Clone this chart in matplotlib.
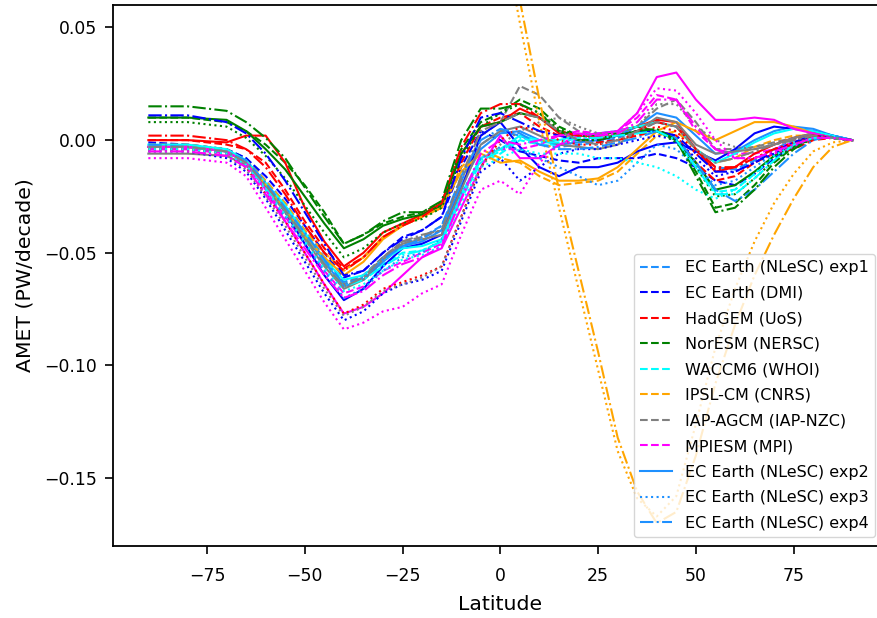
import numpy as np
import matplotlib
matplotlib.use("Agg")
import matplotlib.pyplot as plt

nan = np.nan

# latitude grid of the sampled curves
lat = [-90, -80, -70, -65, -60, -55, -50, -45, -40, -35, -30, -25, -20, -15, -10, -5,
       0, 5, 10, 15, 20, 25, 30, 35, 40, 45, 50, 55, 60, 65, 70, 75, 80, 85, 90]

models = ["EC Earth (NLeSC) exp1", "EC Earth (DMI)", "HadGEM (UoS)", "NorESM (NERSC)",
          "WACCM6 (WHOI)", "IPSL-CM (CNRS)", "IAP-AGCM (IAP-NZC)", "MPIESM (MPI)"]
colors = ["dodgerblue", "blue", "red", "green", "cyan", "orange", "gray", "magenta"]
extra_labels = ["EC Earth (NLeSC) exp2", "EC Earth (NLeSC) exp3", "EC Earth (NLeSC) exp4"]

# AMET trend (PW/decade), one list per model and experiment
nlesc_exp1 = [-0.002, -0.002, -0.004, -0.008, -0.018, -0.028, -0.040, -0.052, -0.063, -0.060, -0.052, -0.046, -0.043, -0.038, -0.018, -0.002,
              0.004, 0.002, -0.002, -0.003, -0.002, -0.001, 0.001, 0.004, 0.008, 0.006, -0.004, -0.012, -0.013, -0.009, -0.004, 0.000, 0.003, 0.002, 0.0]
nlesc_exp2 = [-0.003, -0.003, -0.005, -0.010, -0.020, -0.030, -0.042, -0.054, -0.065, -0.062, -0.054, -0.047, -0.045, -0.040, -0.020, -0.004,
              0.003, 0.004, 0.000, -0.002, -0.001, 0.000, 0.002, 0.006, 0.012, 0.010, 0.002, -0.006, -0.005, 0.000, 0.004, 0.006, 0.005, 0.002, 0.0]
nlesc_exp3 = [-0.004, -0.004, -0.006, -0.012, -0.024, -0.034, -0.046, -0.058, -0.070, -0.066, -0.058, -0.052, -0.050, -0.044, -0.024, -0.008,
              -0.003, -0.004, -0.008, -0.012, -0.016, -0.020, -0.018, -0.010, -0.002, -0.004, -0.012, -0.020, -0.018, -0.012, -0.006, -0.002, 0.001, 0.001, 0.0]
nlesc_exp4 = [-0.002, -0.003, -0.005, -0.009, -0.019, -0.030, -0.041, -0.053, -0.064, -0.061, -0.053, -0.047, -0.044, -0.038, -0.016, 0.000,
              0.005, 0.003, -0.002, -0.004, -0.004, -0.003, -0.001, 0.001, 0.004, 0.001, -0.010, -0.022, -0.027, -0.022, -0.014, -0.006, 0.000, 0.002, 0.0]

dmi_exp1 = [-0.001, -0.002, -0.004, -0.008, -0.016, -0.026, -0.038, -0.050, -0.061, -0.058, -0.050, -0.043, -0.040, -0.034, -0.012, 0.004,
            0.000, -0.005, -0.007, -0.009, -0.010, -0.008, -0.008, -0.008, -0.006, -0.008, -0.012, -0.018, -0.020, -0.015, -0.008, -0.003, 0.001, 0.001, 0.0]
dmi_exp2 = [-0.003, -0.003, -0.005, -0.010, -0.020, -0.032, -0.046, -0.060, -0.071, -0.066, -0.056, -0.048, -0.046, -0.042, -0.022, 0.002,
            0.008, -0.003, -0.012, -0.016, -0.012, -0.012, -0.010, -0.005, -0.002, -0.001, -0.005, -0.009, -0.004, 0.003, 0.006, 0.005, 0.004, 0.002, 0.0]
dmi_exp3 = [-0.005, -0.005, -0.008, -0.014, -0.026, -0.040, -0.054, -0.068, -0.080, -0.076, -0.068, -0.064, -0.062, -0.058, -0.036, -0.014,
            -0.008, -0.018, -0.012, -0.006, -0.004, -0.004, -0.002, 0.000, 0.002, 0.000, -0.008, -0.016, -0.014, -0.010, -0.006, -0.002, 0.001, 0.001, 0.0]
dmi_exp4 = [0.011, 0.011, 0.008, 0.003, -0.006, -0.018, -0.032, -0.046, -0.060, -0.058, -0.050, -0.044, -0.040, -0.034, -0.008, 0.010,
            0.012, 0.008, 0.004, 0.002, 0.000, 0.000, 0.002, 0.004, 0.004, 0.002, -0.006, -0.014, -0.014, -0.010, -0.005, -0.001, 0.002, 0.001, 0.0]

hadgem_exp1 = [0.000, 0.000, -0.002, -0.004, -0.010, -0.022, -0.036, -0.048, -0.057, -0.052, -0.043, -0.038, -0.034, -0.030, -0.010, 0.006,
               0.010, 0.012, 0.006, 0.002, 0.000, -0.001, 0.000, 0.002, 0.004, 0.002, -0.010, -0.018, -0.016, -0.010, -0.006, -0.004, 0.000, 0.001, 0.0]
hadgem_exp2 = [0.000, 0.000, -0.001, 0.002, 0.002, -0.010, -0.030, -0.045, -0.056, -0.050, -0.041, -0.037, -0.033, -0.028, -0.006, 0.006,
               0.008, 0.014, 0.010, 0.003, 0.002, 0.002, 0.004, 0.006, 0.009, 0.008, -0.004, -0.014, -0.012, -0.006, -0.002, 0.001, 0.003, 0.001, 0.0]
hadgem_exp3 = [-0.004, -0.004, -0.006, -0.012, -0.024, -0.036, -0.050, -0.064, -0.077, -0.073, -0.066, -0.063, -0.060, -0.056, -0.034, -0.012,
               0.000, 0.006, 0.004, 0.000, -0.002, -0.002, 0.000, 0.003, 0.006, 0.004, -0.006, -0.013, -0.012, -0.008, -0.004, -0.001, 0.002, 0.001, 0.0]
hadgem_exp4 = [0.002, 0.002, 0.000, -0.004, -0.012, -0.024, -0.038, -0.050, -0.058, -0.052, -0.043, -0.038, -0.034, -0.028, -0.003, 0.012,
               0.016, 0.016, 0.010, 0.004, 0.002, 0.001, 0.002, 0.004, 0.008, 0.006, -0.004, -0.012, -0.012, -0.008, -0.004, -0.002, 0.002, 0.001, 0.0]

noresm_exp1 = [0.010, 0.010, 0.008, 0.004, -0.002, -0.010, -0.020, -0.032, -0.046, -0.042, -0.037, -0.034, -0.032, -0.028, -0.004, 0.008,
               0.012, 0.018, 0.014, 0.006, 0.002, 0.002, 0.003, 0.004, 0.004, 0.000, -0.014, -0.030, -0.028, -0.020, -0.010, -0.003, 0.001, 0.001, 0.0]
noresm_exp2 = [0.010, 0.010, 0.009, 0.004, -0.004, -0.013, -0.025, -0.037, -0.048, -0.044, -0.038, -0.035, -0.033, -0.029, -0.006, 0.006,
               0.008, 0.012, 0.010, 0.004, 0.002, 0.002, 0.004, 0.006, 0.004, 0.000, -0.010, -0.022, -0.020, -0.014, -0.007, -0.002, 0.002, 0.001, 0.0]
noresm_exp3 = [0.008, 0.008, 0.006, 0.001, -0.007, -0.017, -0.029, -0.041, -0.052, -0.048, -0.041, -0.037, -0.035, -0.030, -0.008, 0.006,
               0.012, 0.016, 0.012, 0.005, 0.002, 0.001, 0.002, 0.004, 0.004, -0.001, -0.012, -0.025, -0.024, -0.017, -0.009, -0.003, 0.001, 0.001, 0.0]
noresm_exp4 = [0.015, 0.015, 0.013, 0.008, 0.001, -0.008, -0.021, -0.034, -0.046, -0.042, -0.036, -0.032, -0.032, -0.027, 0.000, 0.014,
               0.014, 0.016, 0.012, 0.004, 0.000, 0.000, 0.002, 0.004, 0.005, 0.000, -0.016, -0.032, -0.030, -0.022, -0.012, -0.004, 0.001, 0.001, 0.0]

waccm_exp1 = [-0.003, -0.003, -0.005, -0.010, -0.020, -0.030, -0.042, -0.054, -0.064, -0.062, -0.055, -0.050, -0.049, -0.045, -0.026, -0.010,
              -0.006, 0.000, -0.002, -0.002, 0.000, 0.001, 0.002, 0.004, 0.004, 0.000, -0.012, -0.023, -0.022, -0.015, -0.007, -0.001, 0.002, 0.001, 0.0]
waccm_exp2 = [-0.002, -0.002, -0.004, -0.009, -0.019, -0.029, -0.041, -0.053, -0.062, -0.060, -0.053, -0.048, -0.047, -0.044, -0.024, -0.008,
              -0.004, 0.002, 0.000, 0.000, 0.002, 0.003, 0.004, 0.006, 0.008, 0.006, -0.004, -0.010, -0.006, -0.001, 0.003, 0.005, 0.004, 0.002, 0.0]
waccm_exp3 = [-0.004, -0.004, -0.006, -0.011, -0.022, -0.033, -0.045, -0.057, -0.067, -0.064, -0.058, -0.053, -0.051, -0.047, -0.028, -0.012,
              -0.008, -0.004, -0.006, -0.006, -0.006, -0.008, -0.008, -0.010, -0.012, -0.016, -0.022, -0.026, -0.022, -0.015, -0.007, -0.002, 0.001, 0.001, 0.0]
waccm_exp4 = [-0.003, -0.003, -0.005, -0.010, -0.021, -0.031, -0.043, -0.055, -0.065, -0.062, -0.056, -0.051, -0.049, -0.045, -0.025, -0.009,
              -0.005, 0.001, -0.001, -0.001, 0.001, 0.001, 0.002, 0.003, 0.004, 0.000, -0.012, -0.024, -0.024, -0.017, -0.009, -0.002, 0.001, 0.001, 0.0]

# IPSL exp3/exp4 run off the top of the axes south of ~5N (not readable there)
ipsl_exp1 = [-0.002, -0.002, -0.004, -0.009, -0.018, -0.028, -0.040, -0.050, -0.058, -0.052, -0.043, -0.038, -0.033, -0.030, -0.012, -0.004,
             -0.008, -0.010, -0.016, -0.020, -0.019, -0.018, -0.014, -0.006, 0.002, 0.004, -0.004, -0.010, -0.008, -0.003, 0.000, 0.002, 0.002, 0.001, 0.0]
ipsl_exp2 = [-0.003, -0.003, -0.005, -0.010, -0.020, -0.031, -0.043, -0.052, -0.060, -0.054, -0.044, -0.038, -0.034, -0.030, -0.014, -0.006,
             -0.010, -0.009, -0.014, -0.018, -0.018, -0.017, -0.012, -0.004, 0.004, 0.008, 0.004, 0.000, 0.004, 0.008, 0.008, 0.006, 0.003, 0.001, 0.0]
ipsl_exp3 = [nan, nan, nan, nan, nan, nan, nan, nan, nan, nan, nan, nan, nan, nan, nan, nan,
             0.098, 0.052, 0.008, -0.030, -0.066, -0.102, -0.138, -0.159, -0.167, -0.158, -0.126, -0.092, -0.066, -0.045, -0.028, -0.015, -0.005, -0.001, 0.0]
ipsl_exp4 = [nan, nan, nan, nan, nan, nan, nan, nan, nan, nan, nan, nan, nan, nan, nan, nan,
             0.110, 0.062, 0.018, -0.022, -0.058, -0.094, -0.132, -0.156, -0.170, -0.165, -0.140, -0.108, -0.082, -0.060, -0.042, -0.026, -0.012, -0.003, 0.0]

iap_exp1 = [-0.004, -0.004, -0.005, -0.009, -0.019, -0.030, -0.042, -0.054, -0.064, -0.060, -0.052, -0.045, -0.043, -0.040, -0.018, 0.002,
            0.008, 0.024, 0.020, 0.010, 0.004, 0.002, 0.002, 0.006, 0.014, 0.018, 0.008, -0.004, -0.004, -0.003, -0.001, 0.001, 0.002, 0.001, 0.0]
iap_exp2 = [-0.006, -0.006, -0.007, -0.011, -0.021, -0.032, -0.044, -0.056, -0.066, -0.062, -0.053, -0.046, -0.044, -0.042, -0.022, -0.002,
            0.004, 0.006, 0.002, -0.002, -0.003, -0.004, -0.002, 0.004, 0.010, 0.008, -0.002, -0.006, -0.005, -0.004, -0.002, 0.001, 0.003, 0.001, 0.0]
iap_exp3 = [-0.005, -0.005, -0.007, -0.013, -0.025, -0.038, -0.052, -0.066, -0.078, -0.074, -0.067, -0.064, -0.061, -0.056, -0.034, -0.012,
            -0.002, 0.004, 0.008, 0.010, 0.006, 0.003, 0.003, 0.006, 0.016, 0.016, 0.006, 0.000, -0.003, -0.004, -0.002, 0.000, 0.002, 0.001, 0.0]
iap_exp4 = [-0.003, -0.003, -0.005, -0.010, -0.020, -0.031, -0.043, -0.055, -0.065, -0.061, -0.052, -0.045, -0.042, -0.040, -0.016, 0.004,
            0.008, 0.012, 0.010, 0.004, 0.000, -0.002, 0.000, 0.004, 0.008, 0.006, -0.004, -0.010, -0.008, -0.005, -0.002, 0.000, 0.002, 0.001, 0.0]

mpi_exp1 = [-0.004, -0.004, -0.006, -0.011, -0.022, -0.034, -0.046, -0.058, -0.068, -0.065, -0.058, -0.054, -0.050, -0.046, -0.026, -0.008,
            -0.004, -0.004, -0.002, 0.002, 0.004, 0.003, 0.004, 0.010, 0.020, 0.018, 0.004, -0.004, -0.006, -0.006, -0.004, -0.001, 0.002, 0.001, 0.0]
mpi_exp2 = [-0.003, -0.003, -0.005, -0.010, -0.022, -0.036, -0.050, -0.064, -0.077, -0.074, -0.068, -0.060, -0.052, -0.048, -0.030, -0.012,
            0.002, -0.008, -0.008, -0.002, 0.002, 0.003, 0.004, 0.012, 0.028, 0.030, 0.018, 0.009, 0.009, 0.010, 0.009, 0.005, 0.003, 0.001, 0.0]
mpi_exp3 = [-0.008, -0.008, -0.010, -0.016, -0.030, -0.044, -0.058, -0.072, -0.084, -0.081, -0.076, -0.074, -0.068, -0.064, -0.042, -0.022,
            -0.018, -0.024, -0.010, -0.002, 0.000, 0.002, 0.004, 0.012, 0.023, 0.022, 0.012, 0.000, -0.008, -0.008, -0.006, -0.003, 0.001, 0.001, 0.0]
mpi_exp4 = [-0.005, -0.005, -0.007, -0.012, -0.024, -0.036, -0.048, -0.060, -0.070, -0.067, -0.060, -0.055, -0.052, -0.047, -0.026, -0.006,
            0.000, -0.002, 0.000, 0.002, 0.003, 0.002, 0.003, 0.008, 0.018, 0.018, 0.006, -0.004, -0.008, -0.008, -0.005, -0.002, 0.001, 0.001, 0.0]

exp1 = [nlesc_exp1, dmi_exp1, hadgem_exp1, noresm_exp1, waccm_exp1, ipsl_exp1, iap_exp1, mpi_exp1]
exp2 = [nlesc_exp2, dmi_exp2, hadgem_exp2, noresm_exp2, waccm_exp2, ipsl_exp2, iap_exp2, mpi_exp2]
exp3 = [nlesc_exp3, dmi_exp3, hadgem_exp3, noresm_exp3, waccm_exp3, ipsl_exp3, iap_exp3, mpi_exp3]
exp4 = [nlesc_exp4, dmi_exp4, hadgem_exp4, noresm_exp4, waccm_exp4, ipsl_exp4, iap_exp4, mpi_exp4]

fig = plt.figure(figsize=(8.77, 6.18), dpi=100)
ax = fig.add_axes([0.129, 0.117, 0.883, 0.875])

# exp1 of every model goes in the legend
for i in range(len(models)):
    ax.plot(lat, exp1[i], color=colors[i], linestyle="--", linewidth=1.5, label=models[i])
# remaining experiments, only the NLeSC ones are labelled
for j, (runs, ls) in enumerate([(exp2, "-"), (exp3, ":"), (exp4, "-.")]):
    for i in range(len(models)):
        lab = extra_labels[j] if i == 0 else None
        ax.plot(lat, runs[i], color=colors[i], linestyle=ls, linewidth=1.5, label=lab)

ax.set_xlim(-99, 99)
ax.set_ylim(-0.18, 0.06)
ax.set_xticks([-75, -50, -25, 0, 25, 50, 75])
ax.set_yticks([-0.15, -0.10, -0.05, 0.00, 0.05])
ax.tick_params(labelsize=12.4, length=5.8, width=1.2)
ax.tick_params(axis="x", pad=9.5)
ax.tick_params(axis="y", pad=6)
for sp in ax.spines.values():
    sp.set_linewidth(1.3)
ax.set_xlabel("Latitude", fontsize=14.7, labelpad=7)
ax.set_ylabel("AMET (PW/decade)", fontsize=14.7, labelpad=7)
ax.legend(loc="lower right", fontsize=11.5, labelspacing=0.66, handlelength=2.0,
          bbox_to_anchor=(0.998, 0.131), bbox_transform=fig.transFigure, borderaxespad=0)

fig.savefig("out.png", dpi=100)
